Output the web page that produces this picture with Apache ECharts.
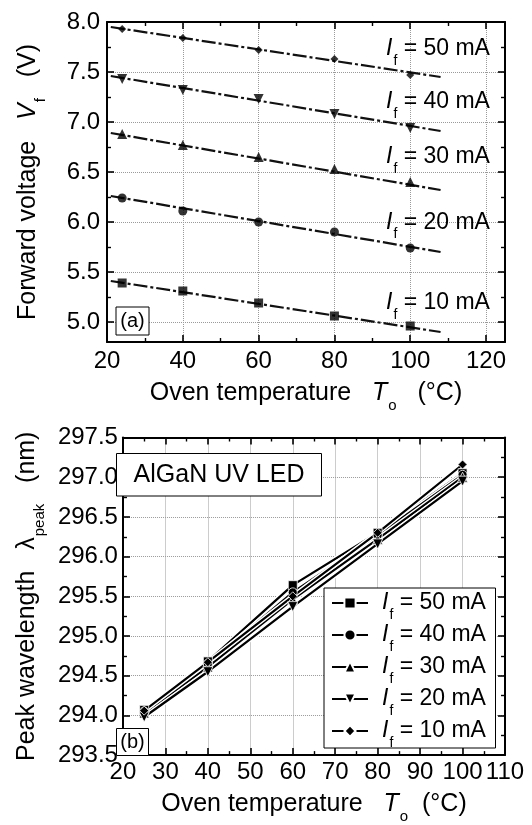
<!DOCTYPE html>
<html>
<head>
<meta charset="utf-8">
<script src="https://cdn.jsdelivr.net/npm/echarts@6/dist/echarts.min.js"></script>
<style>
  html, body { margin: 0; padding: 0; background: #fff; }
  #chart { width: 532px; height: 825px; }
</style>
</head>
<body>
<div id="chart"></div>
<script>
  // ---- panel (a): forward voltage vs oven temperature ----
  var tempA = [24, 40, 60, 80, 100];
  var vf50 = [7.93, 7.84, 7.72, 7.63, 7.47];
  var vf40 = [7.43, 7.32, 7.23, 7.08, 6.94];
  var vf30 = [6.88, 6.77, 6.65, 6.53, 6.40];
  var vf20 = [6.24, 6.11, 6.00, 5.90, 5.74];
  var vf10 = [5.39, 5.31, 5.19, 5.06, 4.96];
  // linear fit end points
  var fitTempA = [21, 108];
  var fit50 = [7.95, 7.45];
  var fit40 = [7.46, 6.91];
  var fit30 = [6.89, 6.32];
  var fit20 = [6.26, 5.70];
  var fit10 = [5.41, 4.90];
  var xMajorA = [20, 40, 60, 80, 100, 120];
  var xMinorA = [30, 50, 70, 90, 110];
  var yMajorA = [5.0, 5.5, 6.0, 6.5, 7.0, 7.5, 8.0];
  var yMinorA = [5.25, 5.75, 6.25, 6.75, 7.25, 7.75];

  // ---- panel (b): peak wavelength vs oven temperature ----
  var tempB = [25, 40, 60, 80, 100];
  var wl50 = [294.07, 294.68, 295.64, 296.30, 297.05];
  var wl40 = [294.05, 294.65, 295.55, 296.27, 297.03];
  var wl30 = [294.03, 294.61, 295.46, 296.22, 297.00];
  var wl20 = [293.98, 294.55, 295.37, 296.16, 296.95];
  var wl10 = [294.06, 294.67, 295.50, 296.30, 297.16];
  var xMajorB = [20, 30, 40, 50, 60, 70, 80, 90, 100, 110];
  var xMinorB = [25, 35, 45, 55, 65, 75, 85, 95, 105];
  var yMajorB = [293.5, 294.0, 294.5, 295.0, 295.5, 296.0, 296.5, 297.0, 297.5];
  var yMinorB = [293.75, 294.25, 294.75, 295.25, 295.75, 296.25, 296.75, 297.25];

  var currents = ['50 mA', '40 mA', '30 mA', '20 mA', '10 mA'];

  var F = "'Liberation Sans', Arial, sans-serif";
  var FN = "'Liberation Sans Narrow', 'Liberation Sans', Arial, sans-serif";

  var rich = {
    n: { fontSize: 23, fontFamily: F, color: '#000' },
    i: { fontSize: 23, fontFamily: F, fontStyle: 'italic', color: '#000' },
    s: { fontSize: 14, fontFamily: F, color: '#000', lineHeight: 14, padding: [24, 0, 0, 1] },
    g: { width: 9 }
  };
  var richName = {
    n: { fontSize: 25, fontFamily: F, color: '#000' },
    i: { fontSize: 25, fontFamily: F, fontStyle: 'italic', color: '#000' },
    s: { fontSize: 15, fontFamily: F, color: '#000', lineHeight: 15, padding: [24, 0, 0, 1] }
  };

  function zip(xs, ys) {
    return xs.map(function (x, k) { return [x, ys[k]]; });
  }

  // four axes per dimension: main (labels, major ticks, grid), main minor ticks, mirror major, mirror minor
  function frameAxes(dim, gridIndex, min, max, majors, minors, fmt, name, nameGap, labelMargin) {
    var mainPos = dim === 'x' ? 'bottom' : 'left';
    var mirrorPos = dim === 'x' ? 'top' : 'right';
    function base(pos) {
      return {
        type: 'value', gridIndex: gridIndex, min: min, max: max, position: pos,
        axisLine: { show: false, onZero: false },
        axisLabel: { show: false },
        splitLine: { show: false }
      };
    }
    var line = { show: true, onZero: false, lineStyle: { color: '#000', width: 2 } };
    var a0 = base(mainPos);
    a0.axisLine = line;
    a0.axisTick = { inside: true, length: 7, customValues: majors, lineStyle: { color: '#000', width: 1.6 } };
    a0.axisLabel = {
      show: true, customValues: majors, formatter: fmt, margin: labelMargin,
      color: '#000', fontFamily: FN, fontSize: 24
    };
    a0.splitLine = { show: true, lineStyle: { type: 'dotted', color: '#9a9a9a', width: 1 } };
    a0.name = name;
    a0.nameLocation = 'middle';
    a0.nameGap = nameGap;
    a0.nameTextStyle = { fontFamily: F, fontSize: 25, color: '#000', rich: richName };
    var a1 = base(mainPos);
    a1.axisTick = { inside: true, length: 4, customValues: minors, lineStyle: { color: '#000', width: 1.4 } };
    var a2 = base(mirrorPos);
    a2.axisLine = line;
    a2.axisTick = { inside: true, length: 7, customValues: majors, lineStyle: { color: '#000', width: 1.6 } };
    var a3 = base(mirrorPos);
    a3.axisTick = { inside: true, length: 4, customValues: minors, lineStyle: { color: '#000', width: 1.4 } };
    return [a0, a1, a2, a3];
  }

  var xAxes = frameAxes('x', 0, 20, 125, xMajorA, xMinorA, function (v) { return String(v); },
      '{n|Oven temperature   }{i|T}{s|o}{n|   (°C)}', 27, 7)
    .concat(frameAxes('x', 1, 20, 110, xMajorB, xMinorB, function (v) { return String(v); },
      '{n|Oven temperature   }{i|T}{s|o}{n|  (°C)}', 24, 5));
  var yAxes = frameAxes('y', 0, 4.8, 8.0, yMajorA, yMinorA, function (v) { return v.toFixed(1); },
      '{n|Forward voltage   }{i|V}{s|f}{n|   (V)}', 66, 7)
    .concat(frameAxes('y', 1, 293.5, 297.5, yMajorB, yMinorB, function (v) { return v.toFixed(1); },
      '{n|Peak wavelength   λ}{s|peak}{n|   (nm)}', 64, 5));

  var series = [];
  var setA = [
    { v: vf50, f: fit50, sym: 'diamond', size: 8, rot: 0 },
    { v: vf40, f: fit40, sym: 'triangle', size: 10, rot: 180 },
    { v: vf30, f: fit30, sym: 'triangle', size: 10, rot: 0 },
    { v: vf20, f: fit20, sym: 'circle', size: 9, rot: 0 },
    { v: vf10, f: fit10, sym: 'rect', size: 9, rot: 0 }
  ];
  setA.forEach(function (s, k) {
    series.push({
      name: 'fitA' + k, type: 'line', xAxisIndex: 0, yAxisIndex: 0,
      data: zip(fitTempA, s.f), symbol: 'none', silent: true,
      lineStyle: { color: '#111', width: 2.2, type: [14, 3, 3, 3] }
    });
    series.push({
      name: 'ptsA' + k, type: 'scatter', xAxisIndex: 0, yAxisIndex: 0,
      data: zip(tempA, s.v), symbol: s.sym, symbolSize: s.size, symbolRotate: s.rot,
      itemStyle: { color: '#000' }, z: 3
    });
  });

  var setB = [
    { v: wl50, sym: 'rect', size: 9, rot: 0 },
    { v: wl40, sym: 'circle', size: 9, rot: 0 },
    { v: wl30, sym: 'triangle', size: 10, rot: 0 },
    { v: wl20, sym: 'triangle', size: 10, rot: 180 },
    { v: wl10, sym: 'diamond', size: 9, rot: 0 }
  ];
  setB.forEach(function (s, k) {
    // white halo under each line, as in the original plot
    series.push({
      name: 'halo' + k, type: 'line', xAxisIndex: 4, yAxisIndex: 4,
      data: zip(tempB, s.v), symbol: 'none', silent: true,
      lineStyle: { color: '#fff', width: 5 }
    });
    series.push({
      name: currents[k], type: 'line', xAxisIndex: 4, yAxisIndex: 4,
      data: zip(tempB, s.v), symbol: s.sym, symbolSize: s.size, symbolRotate: s.rot,
      lineStyle: { color: '#000', width: 2.2 },
      itemStyle: { color: '#000', borderColor: '#fff', borderWidth: 0.8 }
    });
  });

  // I_f labels next to the panel (a) lines
  var annY = [49, 101.7, 156.7, 222.5, 303];
  var graphics = currents.map(function (c, k) {
    return {
      type: 'text', x: 386, y: annY[k], z: 100,
      style: { text: '{i|I}{s|f}{n| = ' + c + '}', rich: rich, fill: '#000', verticalAlign: 'middle', align: 'left' }
    };
  });
  function boxText(x, y, w, h, txt, size) {
    return [
      { type: 'rect', z: 100, shape: { x: x, y: y, width: w, height: h },
        style: { fill: '#fff', stroke: '#000', lineWidth: 1 } },
      { type: 'text', z: 101, x: x + w / 2, y: y + h / 2,
        style: { text: txt, fill: '#000', fontFamily: F, fontSize: size, align: 'center', verticalAlign: 'middle' } }
    ];
  }
  graphics = graphics
    .concat(boxText(116, 307, 33, 28, '(a)', 20))
    .concat(boxText(116.5, 728.5, 32, 27, '(b)', 20))
    .concat(boxText(116.5, 453.5, 205, 42.5, 'AlGaN UV LED', 25));
  graphics.push({
    type: 'rect', z: 3,
    shape: { x: 324, y: 588, width: 171.5, height: 160 },
    style: { fill: '#fff', stroke: '#000', lineWidth: 1 }
  });

  var myChart = echarts.init(document.getElementById('chart'));
  var option = {
    animation: false,
    backgroundColor: '#fff',
    grid: [
      { left: 107, top: 22, width: 398, height: 320 },
      { left: 105, top: 437.5, width: 400, height: 324 }
    ],
    xAxis: xAxes,
    yAxis: yAxes,
    legend: {
      data: currents, orient: 'vertical', left: 331, top: 584, itemGap: -6,
      itemWidth: 36, itemHeight: 14, padding: 0, selectedMode: false, z: 5,
      formatter: function (name) { return '{g|}{i|I}{s|f}{n| = ' + name + '}'; },
      textStyle: { fontFamily: F, fontSize: 23, color: '#000', rich: rich }
    },
    graphic: graphics,
    series: series
  };
  myChart.setOption(option);
</script>
</body>
</html>
